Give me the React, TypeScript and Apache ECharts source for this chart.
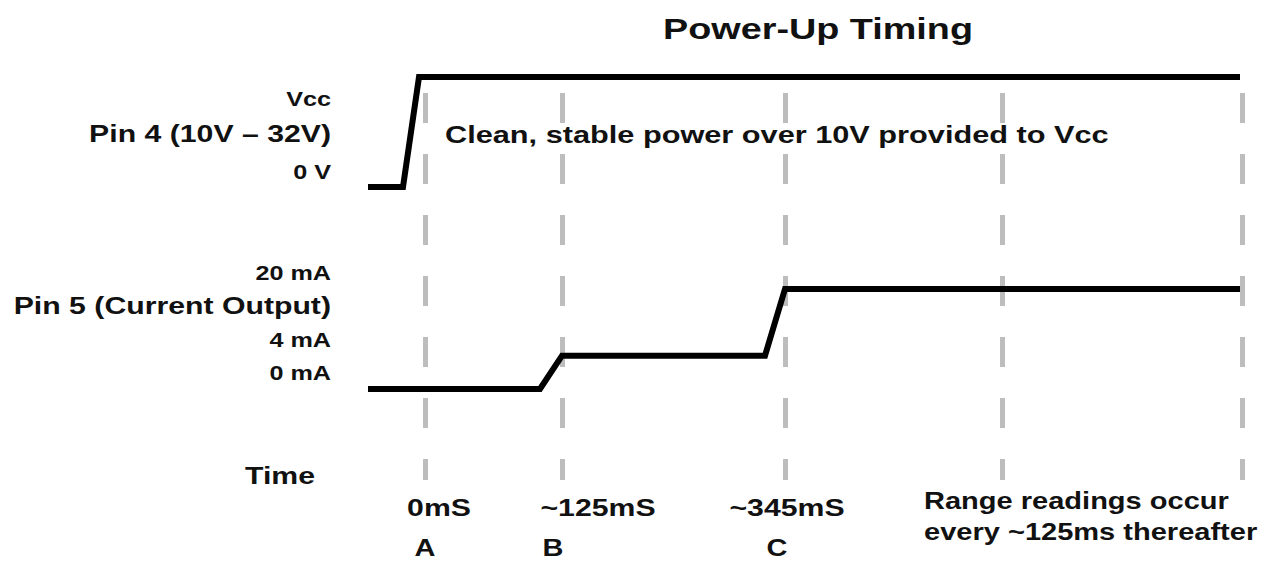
import React, { useEffect, useRef } from 'react';
import * as echarts from 'echarts';

// ---- Data (diagram units: x is position along the not-to-scale timing axis, 0 = 0mS) ----
const titleText = 'Power-Up Timing';

const powerX = [-57, -22, -6, 815];
const powerLevel = [0, 0, 1, 1]; // 0 = 0 V, 1 = Vcc

const currentX = [-57, 115, 137, 340, 360, 815];
const currentMA = [0, 0, 4, 4, 20, 20];
// drawing level of each current value (the diagram is not to scale)
const currentDiagramLevel: Record<number, number> = { 0: 0, 4: 1, 20: 3 };

const markerX = [0, 137, 360, 577, 817];
const markerTimeLabels = ['0mS', '~125mS', '~345mS'];
const markerLetters = ['A', 'B', 'C'];

const powerLabels = ['Vcc', 'Pin 4 (10V – 32V)', '0 V'];
const currentLabels = ['20 mA', 'Pin 5 (Current Output)', '4 mA', '0 mA'];
const timeLabel = 'Time';
const powerNote = 'Clean, stable power over 10V provided to Vcc';
const readingNote = ['Range readings occur', 'every ~125ms thereafter'];

const FONT = '"Liberation Sans", Arial, sans-serif';
const SX = 1.26;

function txt(text: string, x: number, y: number, size: number, align = 'left', sx = SX) {
  return {
    type: 'text',
    x,
    y,
    scaleX: sx,
    style: {
      text,
      fill: '#111',
      fontSize: size,
      fontWeight: 'bold',
      fontFamily: FONT,
      align,
      verticalAlign: 'middle',
    },
  };
}

export default function App() {
  const ref = useRef<HTMLDivElement>(null);
  useEffect(() => {
    document.body.style.margin = '0';
    const chart = echarts.init(ref.current!, null, { renderer: 'svg' });
    const xMin = -57;
    const xMax = 820;
    const gridLeft = 368;
    const gridWidth = 877;
    const graphic: any[] = [
      txt(titleText, 818, 28, 30, 'center', 1.26),
      txt(powerLabels[0], 331, 99, 20, 'right'),
      txt(powerLabels[1], 331, 134, 24, 'right'),
      txt(powerLabels[2], 331, 172, 20, 'right'),
      txt(currentLabels[0], 331, 273, 20, 'right'),
      txt(currentLabels[1], 331, 306, 24, 'right'),
      txt(currentLabels[2], 331, 340, 20, 'right'),
      txt(currentLabels[3], 331, 373, 20, 'right'),
      txt(timeLabel, 280, 476, 24, 'center'),
      txt(powerNote, 445, 135, 24, 'left', 1.28),
      txt(markerTimeLabels[0], 439, 508, 24, 'center'),
      txt(markerTimeLabels[1], 598, 508, 24, 'center'),
      txt(markerTimeLabels[2], 787, 508, 24, 'center'),
      txt(markerLetters[0], 425, 548, 23, 'center'),
      txt(markerLetters[1], 553, 548, 23, 'center'),
      txt(markerLetters[2], 777, 548, 23, 'center'),
      txt(readingNote[0], 924, 501, 24, 'left', 1.21),
      txt(readingNote[1], 924, 532, 24, 'left', 1.21),
    ];
    const xa = (gridIndex: number) => ({
      type: 'value', gridIndex, min: xMin, max: xMax, show: false,
    });
    chart.setOption({
      animation: false,
      backgroundColor: '#ffffff',
      grid: [
        { left: gridLeft, width: gridWidth, top: 77, height: 110 },
        { left: gridLeft, width: gridWidth, top: 289, height: 100 },
        { left: gridLeft, width: gridWidth, top: 93, height: 387 },
      ],
      xAxis: [xa(0), xa(1), xa(2)],
      yAxis: [
        { type: 'value', gridIndex: 0, min: 0, max: 1, show: false },
        { type: 'value', gridIndex: 1, min: 0, max: 3, show: false },
        { type: 'value', gridIndex: 2, min: 0, max: 1, show: false },
      ],
      graphic,
      series: [
        {
          type: 'lines',
          coordinateSystem: 'cartesian2d',
          xAxisIndex: 2,
          yAxisIndex: 2,
          z: 1,
          silent: true,
          lineStyle: { color: '#bdbdbd', width: 5, type: [30, 31], opacity: 1, cap: 'butt' },
          data: markerX.map((x) => ({ coords: [[x, 1], [x, 0]] })),
        },
        {
          type: 'line',
          name: 'Pin 4',
          xAxisIndex: 0,
          yAxisIndex: 0,
          z: 5,
          clip: false,
          showSymbol: false,
          symbol: 'none',
          lineStyle: { color: '#000', width: 6, join: 'miter' },
          data: powerX.map((x, i) => [x, powerLevel[i]]),
        },
        {
          type: 'line',
          name: 'Pin 5',
          xAxisIndex: 1,
          yAxisIndex: 1,
          z: 5,
          clip: false,
          showSymbol: false,
          symbol: 'none',
          lineStyle: { color: '#000', width: 6, join: 'miter' },
          data: currentX.map((x, i) => [x, currentDiagramLevel[currentMA[i]]]),
        },
      ],
    });
    return () => chart.dispose();
  }, []);
  return <div ref={ref} style={{ width: 1267, height: 561 }} />;
}
